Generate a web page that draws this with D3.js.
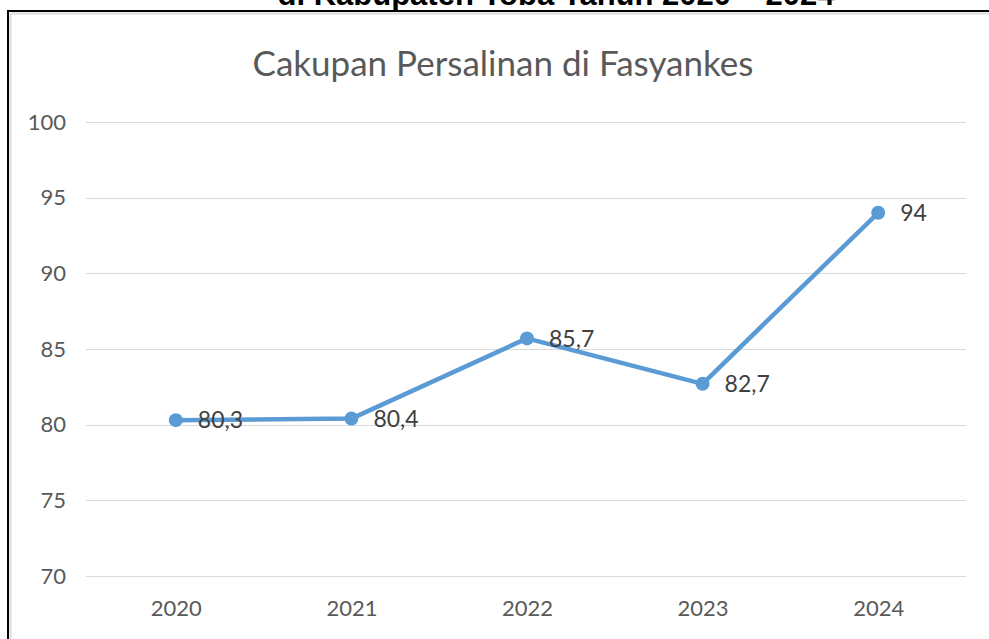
<!DOCTYPE html>
<html><head><meta charset="utf-8">
<script src="https://cdn.jsdelivr.net/npm/d3@7"></script>
<style>html,body{margin:0;padding:0;background:#fff;overflow:hidden}</style>
</head><body>
<script>
const years = ["2020","2021","2022","2023","2024"];
const values = [80.3, 80.4, 85.7, 82.7, 94];
const labels = ["80,3","80,4","85,7","82,7","94"];
const yTicks = [70,75,80,85,90,95,100];
const chartTitle = "Cakupan Persalinan di Fasyankes";
const pageTitle = "di Kabupaten Toba Tahun 2020 – 2024";

const W = 989, H = 639;
const svg = d3.select("body").append("svg").attr("width", W).attr("height", H);
svg.append("rect").attr("width", W).attr("height", H).attr("fill", "#fff");

// document title (cut off at top, as in the source)
svg.append("text").attr("x", 556).attr("y", 5).attr("text-anchor","middle")
  .attr("font-family","'Liberation Sans', Arial, sans-serif").attr("font-weight","bold")
  .attr("font-size", 31).attr("fill","#000").text(pageTitle);

// frame
svg.append("line").attr("x1",10.5).attr("x2",989).attr("y1",13.5).attr("y2",13.5).attr("stroke","#dcdcdc").attr("stroke-width",2);
svg.append("line").attr("x1",10.5).attr("x2",10.5).attr("y1",13).attr("y2",H).attr("stroke","#dcdcdc").attr("stroke-width",2);
svg.append("line").attr("x1",7).attr("x2",989).attr("y1",11).attr("y2",11).attr("stroke","#000").attr("stroke-width",2);
svg.append("line").attr("x1",8).attr("x2",8).attr("y1",10).attr("y2",H).attr("stroke","#000").attr("stroke-width",2);

const font = "Lato, 'Open Sans', sans-serif";
svg.append("text").attr("x", 503).attr("y", 76).attr("text-anchor","middle")
  .attr("font-family", font).attr("font-size", 35).attr("fill","#595959").text(chartTitle);

const x = d3.scalePoint().domain(years).range([88, 966]).padding(0.5);
const y = d3.scaleLinear().domain([70,100]).range([576,122]);

const grid = svg.append("g");
grid.selectAll("line").data(yTicks).join("line")
  .attr("x1", 86).attr("x2", 966)
  .attr("y1", d => Math.round(y(d))+0.5).attr("y2", d => Math.round(y(d))+0.5)
  .attr("stroke","#d9d9d9").attr("stroke-width",1);

const yAxis = svg.append("g").attr("transform","translate(86,0)")
  .call(d3.axisLeft(y).tickValues(yTicks).tickSize(0).tickPadding(20));
yAxis.select(".domain").remove();
yAxis.selectAll("text").attr("font-family", font).attr("font-size", 22).attr("fill","#595959");

const xAxis = svg.append("g").attr("transform","translate(0,576)")
  .call(d3.axisBottom(x).tickSize(0).tickPadding(24));
xAxis.select(".domain").remove();
xAxis.selectAll("text").attr("font-family", font).attr("font-size", 22).attr("fill","#595959");

const line = d3.line().x((d,i)=>x(years[i])).y(d=>y(d));
svg.append("path").datum(values).attr("d", line).attr("fill","none")
  .attr("stroke","#5b9bd5").attr("stroke-width",4.5).attr("stroke-linejoin","round").attr("stroke-linecap","round");

svg.selectAll("circle.pt").data(values).join("circle").attr("class","pt")
  .attr("cx",(d,i)=>x(years[i])).attr("cy",d=>y(d)).attr("r",7).attr("fill","#5b9bd5");

svg.selectAll("text.lbl").data(values).join("text").attr("class","lbl")
  .attr("x",(d,i)=>x(years[i])+22).attr("y",d=>y(d)).attr("dy","0.36em")
  .attr("font-family", font).attr("font-size", 23).attr("fill","#404040")
  .text((d,i)=>labels[i]);
</script>
</body></html>
